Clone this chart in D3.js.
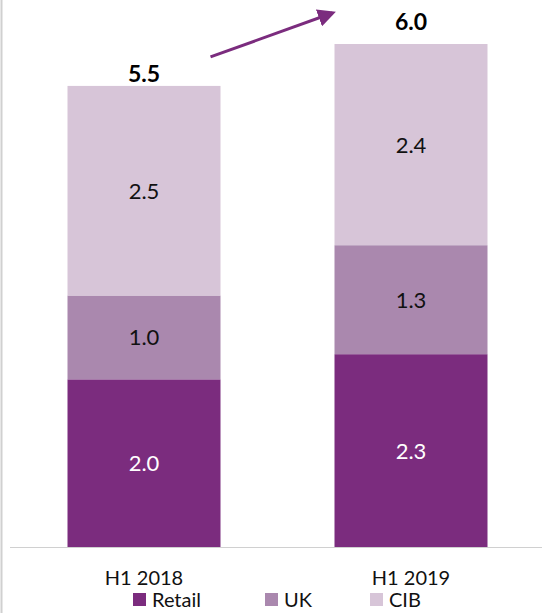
<!DOCTYPE html>
<html lang="en">
<head>
<meta charset="utf-8">
<title>H1 2018 vs H1 2019</title>
<script src="https://d3js.org/d3.v7.min.js"></script>
<style>
  body { margin: 0; background: #fff; }
  svg { font-family: Lato, "Open Sans", sans-serif; }
</style>
</head>
<body>
<svg id="chart" width="542" height="613"></svg>
<script>
var categories = ["H1 2018", "H1 2019"];
var segments = ["Retail", "UK", "CIB"];
var retail = [2.0, 2.3];
var uk = [1.0, 1.3];
var cib = [2.5, 2.4];
var totals = [5.5, 6.0];
var colors = ["#7b2c7e", "#aa88ae", "#d7c5d8"];
var labelColors = ["#fff", "#111", "#111"];

var svg = d3.select("#chart");

// bar centres
var x = d3.scalePoint().domain(categories).range([144, 411]);
var y = d3.scaleLinear().domain([0, 6]).range([547, 44]);
var bw = 153;
function barX(c) { return x(c) - bw / 2; }
var totalGap = [4, 14]; // label gap above bar top

// frame line on left + axis line
svg.append("line").attr("x1", 1.5).attr("x2", 1.5).attr("y1", 0).attr("y2", 613)
  .attr("stroke", "#d0d0d0").attr("stroke-width", 2);
svg.append("line").attr("x1", 10).attr("x2", 542).attr("y1", 547.5).attr("y2", 547.5)
  .attr("stroke", "#d0d0d0").attr("stroke-width", 1);

var rows = categories.map(function(c, i) {
  return { cat: c, Retail: retail[i], UK: uk[i], CIB: cib[i] };
});
var stacked = d3.stack().keys(segments)(rows);

stacked.forEach(function(layer, li) {
  var g = svg.append("g");
  g.selectAll("rect").data(layer).enter().append("rect")
    .attr("x", function(d) { return barX(d.data.cat); })
    .attr("width", bw)
    .attr("y", function(d) { return y(d[1]); })
    .attr("height", function(d) { return y(d[0]) - y(d[1]); })
    .attr("fill", colors[li]);
  g.selectAll("text").data(layer).enter().append("text")
    .attr("x", function(d) { return x(d.data.cat); })
    .attr("y", function(d) { return (y(d[0]) + y(d[1])) / 2; })
    .attr("dy", "0.36em")
    .attr("text-anchor", "middle")
    .attr("font-size", 22)
    .attr("fill", labelColors[li])
    .text(function(d) { return (d[1] - d[0]).toFixed(1); });
});

// totals
svg.selectAll(".total").data(categories).enter().append("text")
  .attr("class", "total")
  .attr("x", function(c) { return x(c); })
  .attr("y", function(c, i) { return y(totals[i]) - totalGap[i]; })
  .attr("text-anchor", "middle")
  .attr("font-size", 23)
  .attr("font-weight", "bold")
  .attr("fill", "#000")
  .text(function(c, i) { return totals[i].toFixed(1); });

// category labels
svg.selectAll(".cat").data(categories).enter().append("text")
  .attr("class", "cat")
  .attr("x", function(c) { return x(c); })
  .attr("y", 585)
  .attr("text-anchor", "middle")
  .attr("font-size", 20)
  .attr("fill", "#111")
  .text(function(c) { return c; });

// growth arrow
var defs = svg.append("defs");
defs.append("marker").attr("id", "head").attr("viewBox", "0 0 10 10")
  .attr("refX", 8).attr("refY", 5).attr("markerWidth", 6).attr("markerHeight", 6)
  .attr("orient", "auto")
  .append("path").attr("d", "M0,0 L10,5 L0,10 z").attr("fill", "#7b2c7e");
svg.append("line")
  .attr("x1", barX(categories[0]) + bw - 10).attr("y1", y(totals[0]) - 29)
  .attr("x2", barX(categories[1]) - 2).attr("y2", y(totals[1]) - 31)
  .attr("stroke", "#7b2c7e").attr("stroke-width", 3)
  .attr("marker-end", "url(#head)");

// legend
var legX = [133, 265, 370];
var leg = svg.selectAll(".leg").data(segments).enter().append("g")
  .attr("transform", function(d, i) { return "translate(" + legX[i] + ",593)"; });
leg.append("rect").attr("width", 13).attr("height", 13).attr("fill", function(d, i) { return colors[i]; });
leg.append("text").attr("x", 19).attr("y", 14).attr("font-size", 20).attr("fill", "#111")
  .text(function(d) { return d; });
</script>
</body>
</html>
